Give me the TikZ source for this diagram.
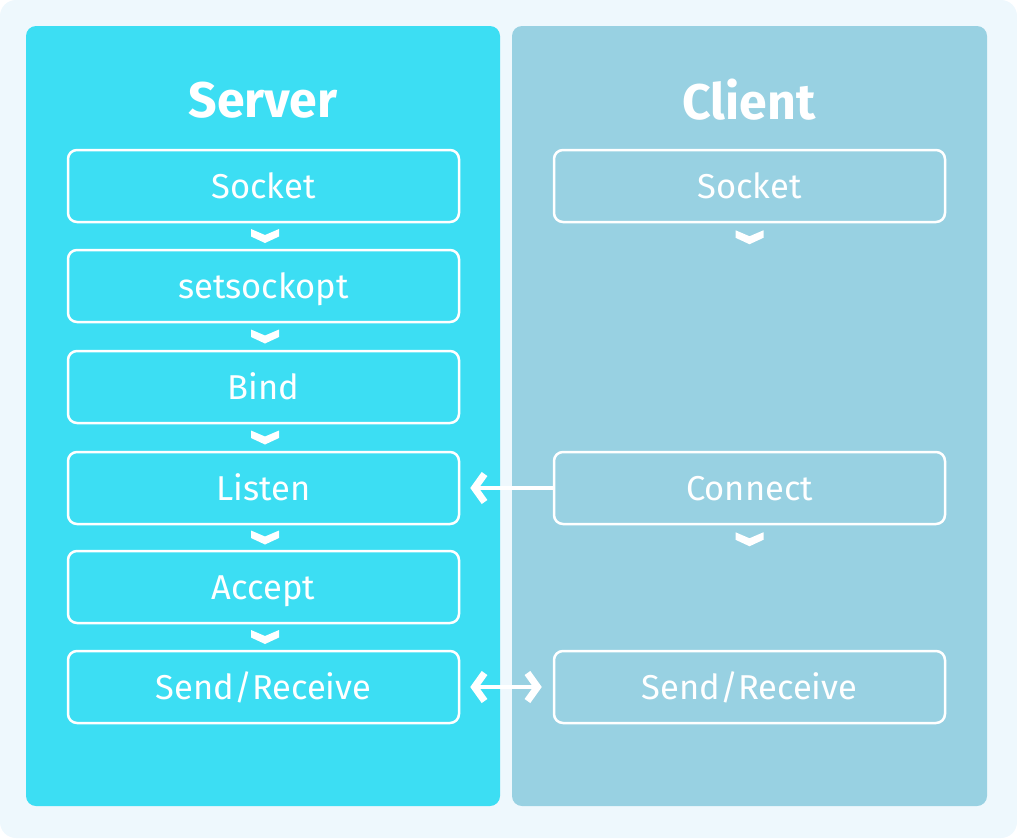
\documentclass[tikz,border=0pt]{standalone}
\usepackage{fontspec}
\setmainfont{Fira Sans}
\usetikzlibrary{calc,arrows.meta}
\definecolor{bgc}{HTML}{EEF8FD}
\definecolor{srvc}{HTML}{3CDEF3}
\definecolor{clic}{HTML}{98D1E2}
\tikzset{
  panel/.style={rounded corners=10pt},
  stepbox/.style={draw=white,line width=2.5pt,rounded corners=9pt,minimum width=391pt,minimum height=72pt,inner sep=0pt,text height=26pt,text depth=2pt,text=white,font=\fontsize{34.5}{36}\selectfont},
  title/.style={text=white,font=\fontsize{50}{52}\selectfont\bfseries},
  conn/.style={white,line width=4pt},
  barb/.tip={Straight Barb[length=10pt,width=28pt,line width=7pt]},
  chev/.pic={\fill[white] (-14,-7) -- (0,-1) -- (14,-7) -- (14,0.5) -- (0,7) -- (-14,0.5) -- cycle;}
}
\begin{document}
\begin{tikzpicture}[x=1pt,y=-1pt]
\useasboundingbox (0,0) rectangle (1017,838);
\fill[bgc,rounded corners=16pt] (0,0) rectangle (1017,838);
\fill[srvc,panel] (26,26) rectangle (500,806);
\fill[clic,panel] (512,26) rectangle (987,806);
\node[title] (ts) at (263,100) {Server};
\node[title] (tc) at (749,100) {Client};
\node[stepbox] (s1) at (263.5,186) {Socket};
\node[stepbox] (s2) at (263.5,286) {setsockopt};
\node[stepbox] (s3) at (263.5,387) {Bind};
\node[stepbox] (s4) at (263.5,488) {Listen};
\node[stepbox] (s5) at (263.5,587) {Accept};
\node[stepbox] (s6) at (263.5,687) {Send/Receive};
\node[stepbox] (c1) at (749.5,186) {Socket};
\node[stepbox] (c2) at (749.5,488) {Connect};
\node[stepbox] (c3) at (749.5,687) {Send/Receive};
\foreach \a/\b in {s1/s2,s2/s3,s3/s4,s4/s5,s5/s6}
  \pic at ($(\a.south)!0.5!(\b.north)+(1.5,0)$) {chev};
\pic at ($(c1.south)+(0,14)$) {chev};
\pic at ($(c2.south)+(0,14)$) {chev};
\draw[conn,-{barb}] (c2.west) -- ([xshift=10pt]s4.east);
\draw[conn,{barb}-{barb}] ([xshift=10pt]s6.east) -- ([xshift=-11pt]c3.west);
\end{tikzpicture}
\end{document}
